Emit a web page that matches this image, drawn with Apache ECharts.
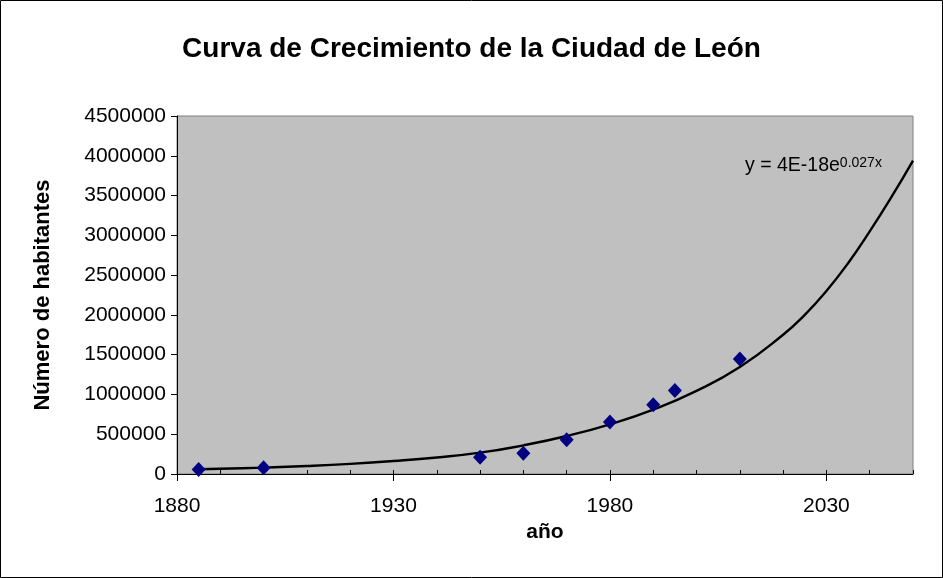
<!DOCTYPE html>
<html><head><meta charset="utf-8">
<script src="https://cdn.jsdelivr.net/npm/echarts@6/dist/echarts.min.js"></script>
<style>html,body{margin:0;padding:0;background:#fff}#c{width:943px;height:578px}</style>
</head><body><div id="c"></div>
<script>
// Observed data points (year, inhabitants)
const years = [1885, 1900, 1950, 1960, 1970, 1980, 1990, 1995, 2010];
const population = [55000, 80000, 210000, 262000, 430000, 655000, 870000, 1050000, 1445000];
// Exponential trendline
const trendYears = [1885, 1890, 1900, 1910, 1920, 1930, 1940, 1950, 1960, 1970, 1980, 1990, 2000, 2010, 2020, 2025, 2030, 2035, 2040, 2045, 2050];
const trendValues = [60000, 66000, 80000, 100000, 127000, 163000, 208000, 268000, 360000, 478000, 625000, 810000, 1045000, 1345000, 1750000, 2000000, 2300000, 2650000, 3050000, 3480000, 3940000];
const xTickLabels = [1880, 1930, 1980, 2030];
const yTickLabels = [0, 500000, 1000000, 1500000, 2000000, 2500000, 3000000, 3500000, 4000000, 4500000];
const titleText = 'Curva de Crecimiento de la Ciudad de León';
const xName = 'año';
const yName = 'Número de habitantes';
const equation = ['y = 4E-18e', '0.027x'];

const FONT = "'Liberation Sans', Arial, sans-serif";
const chart = echarts.init(document.getElementById('c'), null, {renderer: 'canvas'});
const scatterData = years.map((y, i) => [y, population[i]]);
const trendData = trendYears.map((y, i) => [y, trendValues[i]]);
const plain = v => String(v);

chart.setOption({
  animation: false,
  backgroundColor: '#fff',
  textStyle: {fontFamily: FONT},
  title: {
    text: titleText, left: 'center', top: 30,
    textStyle: {fontFamily: FONT, fontSize: 28, fontWeight: 'bold', color: '#000'}
  },
  grid: {
    left: 177, top: 116, right: 30, bottom: 104,
    show: true, backgroundColor: '#C0C0C0', borderColor: '#808080', borderWidth: 1
  },
  xAxis: [{
    type: 'value', min: xTickLabels[0], max: 2050, interval: 10,
    axisLine: {show: true, lineStyle: {color: '#000', width: 1}},
    axisTick: {show: true, inside: true, length: 4, lineStyle: {color: '#000'}},
    axisLabel: {show: false},
    splitLine: {show: false}
  }, {
    type: 'value', position: 'bottom', min: xTickLabels[0], max: 2050,
    axisLine: {show: false},
    axisTick: {show: true, inside: false, length: 7, customValues: xTickLabels, lineStyle: {color: '#000'}},
    axisLabel: {show: true, customValues: xTickLabels, formatter: plain, color: '#000', fontSize: 21, fontFamily: FONT, margin: 22},
    splitLine: {show: false},
    name: xName, nameLocation: 'middle', nameGap: 41,
    nameTextStyle: {fontFamily: FONT, fontSize: 21, fontWeight: 'bold', color: '#000'}
  }],
  yAxis: {
    type: 'value', min: yTickLabels[0], max: yTickLabels[yTickLabels.length - 1], interval: 500000,
    axisLine: {show: true, lineStyle: {color: '#000', width: 1}},
    axisTick: {show: true, inside: false, length: 6, lineStyle: {color: '#000'}},
    axisLabel: {color: '#000', fontSize: 21, fontFamily: FONT, margin: 11, formatter: plain},
    splitLine: {show: false},
    name: yName, nameLocation: 'middle', nameGap: 123, nameRotate: 90,
    nameTextStyle: {fontFamily: FONT, fontSize: 22, fontWeight: 'bold', color: '#000'}
  },
  graphic: [{
    type: 'rect', shape: {x: 0.5, y: 0.5, width: 942, height: 577},
    style: {fill: 'none', stroke: '#000', lineWidth: 1}, silent: true
  }, {
    type: 'text', left: 745, top: 156, silent: true,
    style: {
      text: '{a|' + equation[0] + '}{b|' + equation[1] + '}',
      rich: {
        a: {fontFamily: FONT, fontSize: 19.5, fill: '#000'},
        b: {fontFamily: FONT, fontSize: 14, fill: '#000', verticalAlign: 'top'}
      }
    }
  }],
  series: [{
    type: 'line', xAxisIndex: 0, data: trendData, smooth: true, showSymbol: false,
    lineStyle: {color: '#000', width: 2.4}, z: 3
  }, {
    type: 'scatter', xAxisIndex: 0, data: scatterData, symbol: 'diamond', symbolSize: [14, 15],
    itemStyle: {color: '#000080', opacity: 1}, z: 4
  }]
});
</script></body></html>
